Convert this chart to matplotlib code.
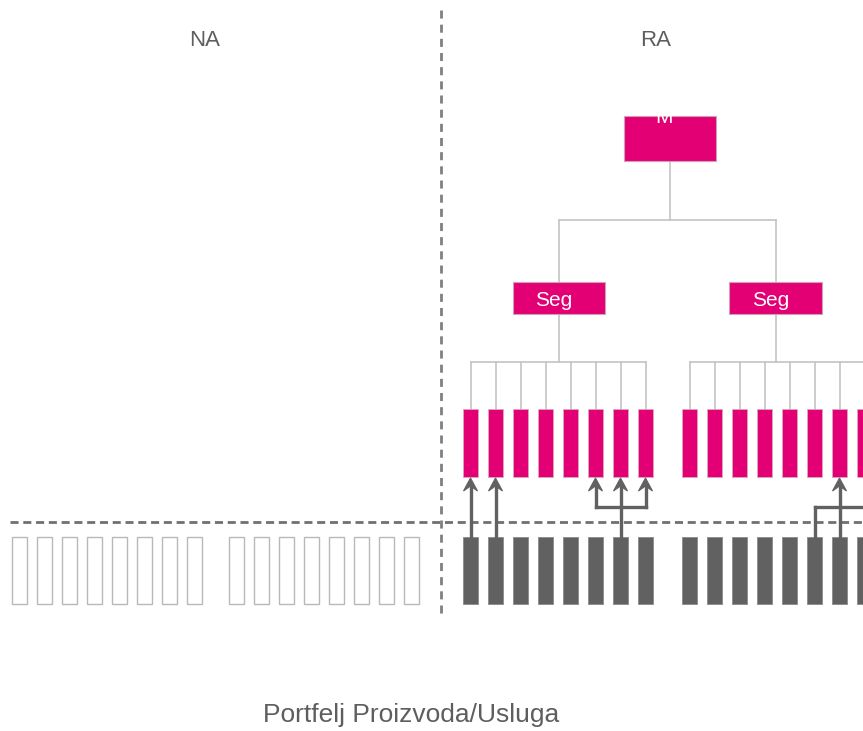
import matplotlib.pyplot as plt
from matplotlib.patches import Rectangle, Polygon

plt.rcParams['font.family'] = ['Liberation Sans', 'DejaVu Sans']

# ---------------------------------------------------------------------
# Datos del esquema
# ---------------------------------------------------------------------
zonas = ["NA", "RA"]
titulo_inferior = "Portfelj Proizvoda/Usluga"
raiz = "M"
segmentos = ["Seg", "Seg"]
grupos_na = [8, 8]            # cajas vacías en la zona NA
grupos_ra = [8, 8]            # productos por segmento en RA
# flechas: (grupo, cajas origen, cajas destino)
flechas_uno_a_uno = [(0, 0, 0), (0, 1, 1)]
flechas_uno_a_varios = [(0, 6, [5, 6, 7])]
flechas_varios_a_uno = [(1, [5, 7], 6)]

COL_MAG = "#e20074"
COL_GRIS = "#616161"
COL_LINEA = "#c4c4c4"
COL_VACIO = "#b8b8b8"
COL_TXT = "#5e5e5e"

# geometría en píxeles
ANCHO, PASO = 15, 25
na_x0 = [12, 229]
ra_x0 = [463, 682]
Y_GRIS = (537, 604)
Y_MAG = (409, 477)
Y_ARBOL = 362
SEG_X = [(513, 605), (729, 822)]
SEG_Y = (282, 314)
M_X, M_Y = (624, 716), (116, 161)
Y_RAMA = 220
Y_BARRA = 507

fig = plt.figure(figsize=(8.63, 7.31), dpi=100)
ax = fig.add_axes([0, 0, 1, 1])
ax.set_xlim(0, 863)
ax.set_ylim(731, 0)
ax.axis("off")


def caja(x0, x1, y0, y1, fc, ec, lw=0.6, z=3):
    ax.add_patch(Rectangle((x0, y0), x1 - x0, y1 - y0, fc=fc, ec=ec, lw=lw, zorder=z))


def centro(g, i):
    return ra_x0[g] + i * PASO + ANCHO / 2


# separadores
ax.plot([10, 863], [522, 522], color="#707070", lw=2, ls=(0, (2.9, 1.7)), zorder=1)
ax.plot([441, 441], [10, 616], color="#808080", lw=2, ls=(0, (2.9, 2.2)), zorder=1)

# zona NA: cajas vacías
for g, n in enumerate(grupos_na):
    for i in range(n):
        x = na_x0[g] + i * PASO
        caja(x, x + ANCHO, *Y_GRIS, fc="white", ec=COL_VACIO, lw=1.0)

# raíz M (el texto queda medio fuera de la caja, como en el original)
cx_m = (M_X[0] + M_X[1]) / 2
caja(*M_X, *M_Y, fc=COL_MAG, ec="#d0a0b8", lw=0.8)
ax.text(cx_m - 6, 123, raiz, color="white", fontsize=15, ha="center", va="baseline", zorder=4)
ax.plot([cx_m, cx_m], [M_Y[1], Y_RAMA], color=COL_LINEA, lw=1.2, zorder=1)
ax.plot([559, 776], [Y_RAMA, Y_RAMA], color=COL_LINEA, lw=1.2, zorder=1)

# segmentos y productos
for g, n in enumerate(grupos_ra):
    cs = (SEG_X[g][0] + SEG_X[g][1]) / 2
    stem = 559 if g == 0 else 776
    ax.plot([stem, stem], [Y_RAMA, SEG_Y[0]], color=COL_LINEA, lw=1.2, zorder=1)
    caja(*SEG_X[g], *SEG_Y, fc=COL_MAG, ec="#d0a0b8", lw=0.8)
    ax.text(cs - 5, (SEG_Y[0] + SEG_Y[1]) / 2 + 2, segmentos[g], color="white",
            fontsize=15, ha="center", va="center", zorder=4)
    ax.plot([stem, stem], [SEG_Y[1], Y_ARBOL], color=COL_LINEA, lw=1.2, zorder=1)
    xs = [centro(g, i) for i in range(n)]
    ax.plot([xs[0], xs[-1]], [Y_ARBOL, Y_ARBOL], color=COL_LINEA, lw=1.2, zorder=1)
    for i, x in enumerate(xs):
        ax.plot([x, x], [Y_ARBOL, Y_MAG[0]], color=COL_LINEA, lw=1.2, zorder=1)
        x0 = ra_x0[g] + i * PASO
        caja(x0, x0 + ANCHO, *Y_MAG, fc=COL_MAG, ec="#d8a8c0", lw=0.6)
        caja(x0, x0 + ANCHO, *Y_GRIS, fc=COL_GRIS, ec="#8a8a8a", lw=0.6)


# flechas con punta tipo "stealth"
def flecha(x, y0, y1):
    ax.plot([x, x], [y0, y1 + 8], color=COL_GRIS, lw=2.4, zorder=5)
    punta = [(x, y1), (x - 7, y1 + 13), (x, y1 + 8), (x + 7, y1 + 13)]
    ax.add_patch(Polygon(punta, closed=True, fc=COL_GRIS, ec=COL_GRIS, lw=0.8, zorder=6))


for g, i, j in flechas_uno_a_uno:
    flecha(centro(g, i), Y_GRIS[0], Y_MAG[1] + 1)

for g, i, destinos in flechas_uno_a_varios:
    xo = centro(g, i)
    xd = [centro(g, j) for j in destinos]
    ax.plot([xo, xo], [Y_GRIS[0], Y_BARRA], color=COL_GRIS, lw=2.4, zorder=5)
    ax.plot([min(xd), max(xd)], [Y_BARRA, Y_BARRA], color=COL_GRIS, lw=2.4,
            solid_capstyle="projecting", zorder=5)
    for x in xd:
        flecha(x, Y_BARRA, Y_MAG[1] + 1)

for g, origenes, j in flechas_varios_a_uno:
    xo = [centro(g, i) for i in origenes]
    xd = centro(g, j)
    for x in xo:
        ax.plot([x, x], [Y_GRIS[0], Y_BARRA], color=COL_GRIS, lw=2.4, zorder=5)
    ax.plot([min(xo), max(xo)], [Y_BARRA, Y_BARRA], color=COL_GRIS, lw=2.4,
            solid_capstyle="projecting", zorder=5)
    flecha(xd, Y_GRIS[0], Y_MAG[1] + 1)

# textos
ax.text(205, 40, zonas[0], color=COL_TXT, fontsize=16, ha="center", va="center")
ax.text(656, 40, zonas[1], color=COL_TXT, fontsize=16, ha="center", va="center")
ax.text(411, 715, titulo_inferior, color=COL_TXT, fontsize=19, ha="center", va="center")

fig.savefig("out.png", dpi=100)
